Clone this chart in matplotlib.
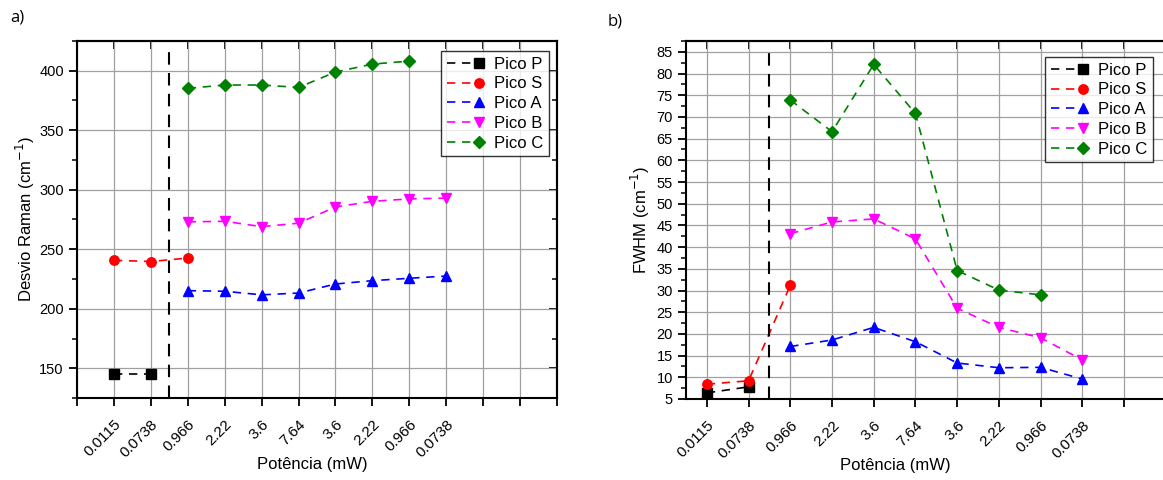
import matplotlib
matplotlib.use("Agg")
import matplotlib.pyplot as plt
from matplotlib.ticker import MultipleLocator, FixedLocator
from matplotlib.legend_handler import HandlerLine2D

plt.rcParams['font.family'] = ['Liberation Sans', 'DejaVu Sans']

# ---------------- data ----------------
power_labels = ['0.0115', '0.0738', '0.966', '2.22', '3.6', '7.64', '3.6', '2.22', '0.966', '0.0738']
pos = list(range(1, 11))

series_names = ['Pico P', 'Pico S', 'Pico A', 'Pico B', 'Pico C']
series_colors = ['black', 'red', 'blue', 'magenta', 'green']
series_markers = ['s', 'o', '^', 'v', 'D']

# Panel a) Raman shift (cm^-1)
raman_P_x = [1, 2]
raman_P = [145, 145]
raman_S_x = [1, 2, 3]
raman_S = [240.7, 239.7, 242.6]
raman_A_x = [3, 4, 5, 6, 7, 8, 9, 10]
raman_A = [215.2, 214.7, 211.7, 213.2, 220.8, 223.6, 225.6, 227.5]
raman_B_x = [3, 4, 5, 6, 7, 8, 9, 10]
raman_B = [273.0, 273.5, 269.0, 271.9, 285.5, 290.3, 292.3, 293.0]
raman_C_x = [3, 4, 5, 6, 7, 8, 9]
raman_C = [385.2, 388.0, 388.0, 386.0, 398.9, 405.6, 408.1]

# Panel b) FWHM (cm^-1)
fwhm_P_x = [1, 2]
fwhm_P = [6.4, 7.8]
fwhm_S_x = [1, 2, 3]
fwhm_S = [8.4, 9.2, 31.2]
fwhm_A_x = [3, 4, 5, 6, 7, 8, 9, 10]
fwhm_A = [17.1, 18.6, 21.5, 18.2, 13.3, 12.2, 12.3, 9.6]
fwhm_B_x = [3, 4, 5, 6, 7, 8, 9, 10]
fwhm_B = [43.1, 45.8, 46.5, 41.9, 25.9, 21.5, 19.1, 14.0]
fwhm_C_x = [3, 4, 5, 6, 7, 8, 9]
fwhm_C = [73.9, 66.6, 82.1, 70.8, 34.6, 30.1, 29.0]

separator_x = 2.5

raman_sets = [(raman_P_x, raman_P), (raman_S_x, raman_S), (raman_A_x, raman_A),
              (raman_B_x, raman_B), (raman_C_x, raman_C)]
fwhm_sets = [(fwhm_P_x, fwhm_P), (fwhm_S_x, fwhm_S), (fwhm_A_x, fwhm_A),
             (fwhm_B_x, fwhm_B), (fwhm_C_x, fwhm_C)]


class MarkerRightHandler(HandlerLine2D):
    """Legend handle: dashed line with the marker at its right end."""
    def create_artists(self, legend, orig_handle, xdescent, ydescent,
                       width, height, fontsize, trans):
        arts = super().create_artists(legend, orig_handle, xdescent, ydescent,
                                      width, height, fontsize, trans)
        for a in arts:
            xd = a.get_xdata()
            if len(xd) == 3:
                a.set_markevery([2])
        return arts


W, H = 1163, 480
fig = plt.figure(figsize=(W / 100, H / 100), dpi=100)

ax1 = fig.add_axes([77 / W, 1 - 398 / H, (557 - 77) / W, (398 - 41) / H])
ax2 = fig.add_axes([686 / W, 1 - 399 / H, (1172 - 686) / W, (399 - 41) / H])


def style_axes(ax, sets, xlim, ylim, ymajor, yminor, ylabel, xticks_all, sep_top):
    ax.set_xlim(*xlim)
    ax.set_ylim(*ylim)
    ax.xaxis.set_major_locator(FixedLocator(xticks_all))
    labels = []
    for t in xticks_all:
        if t in pos:
            labels.append(power_labels[pos.index(t)])
        else:
            labels.append('')
    ax.set_xticklabels(labels, rotation=45, ha='right', va='top',
                       rotation_mode='anchor', fontsize=11)
    ax.yaxis.set_major_locator(MultipleLocator(ymajor))
    ax.yaxis.set_minor_locator(MultipleLocator(yminor))
    ax.tick_params(axis='y', labelsize=10.5)
    ax.grid(True, which='major', color='#a0a0a0', lw=0.9)
    ax.set_axisbelow(True)
    for sp in ax.spines.values():
        sp.set_linewidth(1.5)
    ax.tick_params(which='major', direction='out', length=6, width=1.3,
                   top=False, right=False)
    ax.tick_params(axis='x', which='major', pad=8)
    ax.tick_params(which='minor', direction='out', length=3.5, width=1.1,
                   top=False, right=False)
    # mirrored inward ticks on top and right
    axt = ax.secondary_xaxis('top')
    axt.xaxis.set_major_locator(FixedLocator(xticks_all))
    axt.tick_params(direction='in', length=6, width=1.3, labeltop=False)
    axt.set_xticklabels([])
    axr = ax.secondary_yaxis('right')
    axr.yaxis.set_major_locator(MultipleLocator(ymajor))
    axr.yaxis.set_minor_locator(MultipleLocator(yminor))
    axr.tick_params(which='major', direction='in', length=6, width=1.3, labelright=False)
    axr.tick_params(which='minor', direction='in', length=3.5, width=1.1)
    for s in list(axt.spines.values()) + list(axr.spines.values()):
        s.set_linewidth(1.5)

    for (xs, ys), name, c, m in zip(sets, series_names, series_colors, series_markers):
        ms = 6.8 if m != 'D' else 6.0
        ax.plot(xs, ys, ls=(0, (5, 4)), color=c, lw=1.2, marker=m, ms=ms,
                markeredgecolor=c, label=name)
    ax.vlines(separator_x, ylim[0], sep_top, colors='black', lw=1.5,
              linestyles=(0, (6, 4)))
    ax.set_ylabel(ylabel, fontsize=12)
    ax.set_xlabel('Potência (mW)', fontsize=12)


style_axes(ax1, raman_sets, (0, 13), (125, 425), 50, 25,
           'Desvio Raman (cm$^{-1}$)', list(range(0, 14)), 416)
style_axes(ax2, fwhm_sets, (0.5, 12.15), (5, 87.5), 5, 2.5,
           'FWHM (cm$^{-1}$)', list(range(1, 13)), 85)

leg_kw = dict(fontsize=12, frameon=True, fancybox=False, edgecolor='black',
              handlelength=1.9, borderpad=0.35, labelspacing=0.28,
              handletextpad=0.9, borderaxespad=0,
              handler_map={plt.Line2D: MarkerRightHandler()})
l1 = ax1.legend(loc='upper right', bbox_to_anchor=(549 / W, 1 - 51 / H),
                bbox_transform=fig.transFigure, **leg_kw)
l1.get_frame().set_linewidth(1.0)
l2 = ax2.legend(loc='upper right', bbox_to_anchor=(1153 / W, 1 - 57 / H),
                bbox_transform=fig.transFigure, **leg_kw)
l2.get_frame().set_linewidth(1.0)

ax1.yaxis.set_label_coords(-0.083, 0.5)
ax2.yaxis.set_label_coords(-0.069, 0.5)
ax1.xaxis.set_label_coords(0.49, -0.165)
ax2.xaxis.set_label_coords(0.43, -0.165)

fig.text(10 / W, 1 - 18 / H, 'a)', fontsize=12, va='center', ha='left',
         family=['Open Sans', 'DejaVu Sans'])
fig.text(608 / W, 1 - 22 / H, 'b)', fontsize=12, va='center', ha='left',
         family=['Open Sans', 'DejaVu Sans'])

fig.savefig('out.png', dpi=100)
